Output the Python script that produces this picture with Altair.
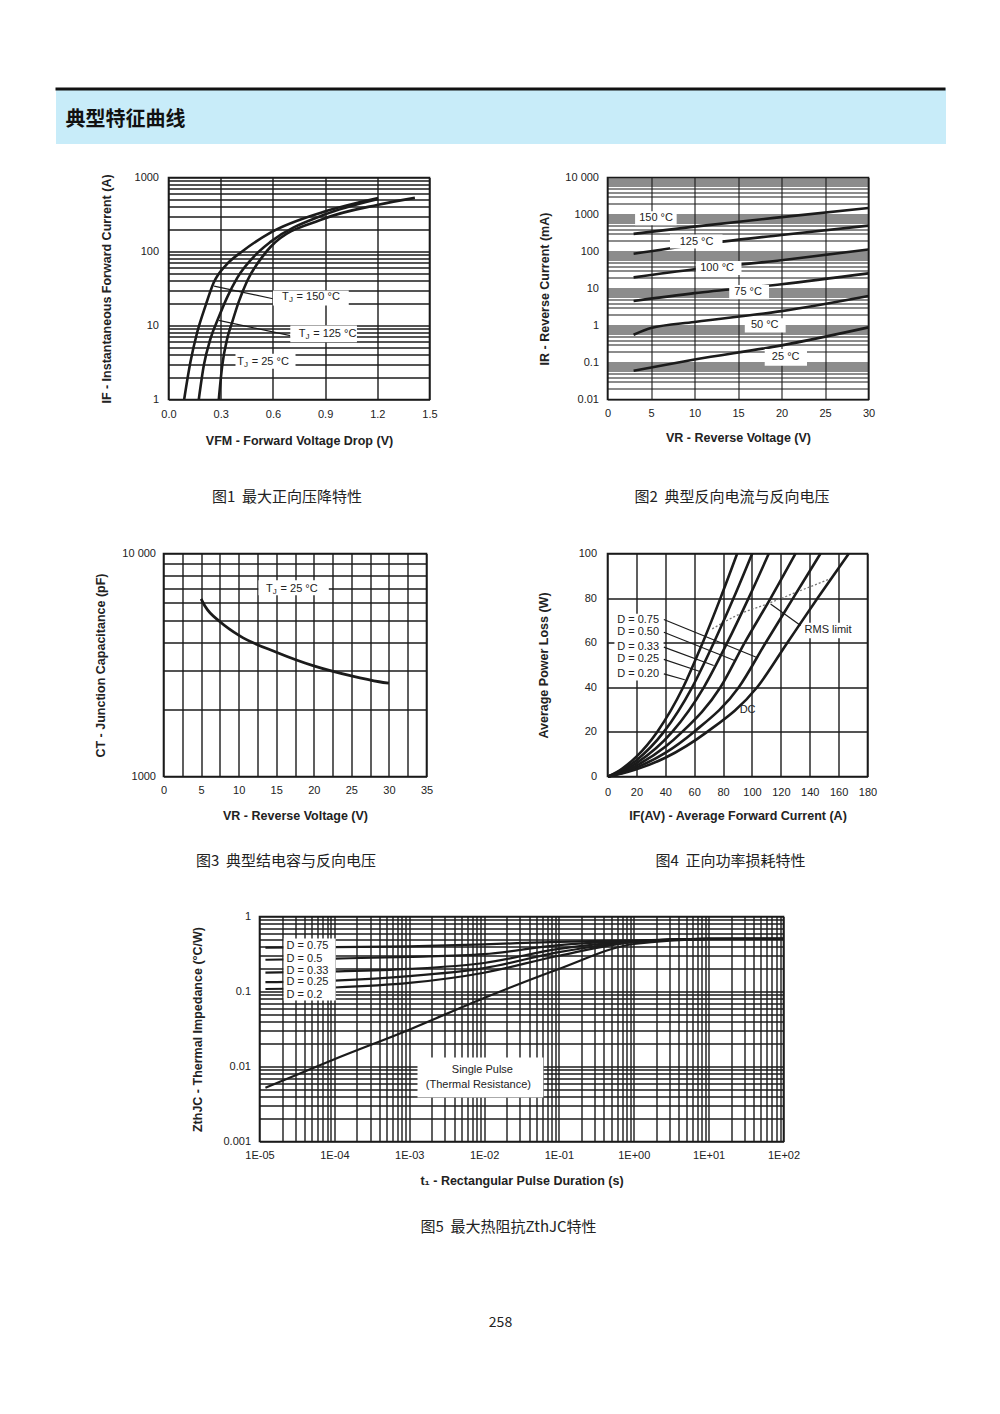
import math
import altair as alt
import pandas as pd

FONT = "Liberation Sans"
CJK = "Noto Sans CJK SC"
INK = "#1b1b1b"
TXT = "#222222"
GAP = "\u00a0\u00a0"

# ---------------- page texts ----------------
header_title = ["典型特征曲线"]
cap1 = "图1" + GAP + "最大正向压降特性"
cap2 = "图2" + GAP + "典型反向电流与反向电压"
cap3 = "图3" + GAP + "典型结电容与反向电压"
cap4 = "图4" + GAP + "正向功率损耗特性"
cap5 = "图5" + GAP + "最大热阻抗ZthJC特性"
page_no = ["258"]

# ---------------- Fig 1 : forward voltage ----------------
f1_x_major = [0.0, 0.3, 0.6, 0.9, 1.2, 1.5]
f1_x_labels = ["0.0", "0.3", "0.6", "0.9", "1.2", "1.5"]
f1_y_major = [1, 10, 100, 1000]
f1_y_labels = ["1", "10", "100", "1000"]
f1_v150 = [0.09, 0.126, 0.165, 0.213, 0.26, 0.337, 0.423, 0.586, 0.893, 1.205]
f1_i150 = [1, 3.2, 8.1, 18.6, 38, 68, 100, 180, 345, 530]
f1_v125 = [0.174, 0.203, 0.241, 0.289, 0.337, 0.395, 0.51, 0.586, 0.893, 1.2]
f1_i125 = [1, 2.9, 6.6, 13, 24, 44, 95, 135, 313, 510]
f1_v25 = [0.289, 0.309, 0.337, 0.366, 0.404, 0.452, 0.548, 0.586, 0.893, 1.205, 1.416]
f1_i25 = [1, 2.9, 6.6, 11.1, 21, 40, 90, 115, 277, 428, 530]
f1_lab_v = [0.653, 0.748, 0.395]
f1_lab_i = [24.1, 7.7, 3.26]
f1_lab_rest = ["= 150 °C", "= 125 °C", "= 25 °C"]
f1_box_v1 = [0.60, 0.70, 0.385]
f1_box_v2 = [1.036, 1.083, 0.73]
f1_box_i1 = [18.6, 5.95, 2.6]
f1_box_i2 = [29.7, 10.0, 4.15]
f1_ptr_v1 = [0.262, 0.289]
f1_ptr_i1 = [34, 11.7]
f1_ptr_v2 = [0.60, 0.70]
f1_ptr_i2 = [23, 7.3]

# ---------------- Fig 2 : reverse current ----------------
f2_x_major = [0, 5, 10, 15, 20, 25, 30]
f2_x_labels = ["0", "5", "10", "15", "20", "25", "30"]
f2_y_major = [0.01, 0.1, 1, 10, 100, 1000, 10000]
f2_y_labels = ["0.01", "0.1", "1", "10", "100", "1000", "10 000"]
f2_v = [3, 10, 20, 30]
f2_i150 = [300, 470, 850, 1500]
f2_i125 = [87, 150, 280, 500]
f2_i100 = [20, 33, 58, 113]
f2_i75 = [4.6, 7.5, 13, 25.6]
f2_v50 = [3, 5, 10, 20, 30]
f2_i50 = [0.56, 0.85, 1.25, 2.45, 6.3]
f2_i25 = [0.06, 0.12, 0.29, 0.89]
f2_lab = ["150 °C", "125 °C", "100 °C", "75 °C", "50 °C", "25 °C"]
f2_lab_v = [5.58, 10.24, 12.6, 16.16, 18.07, 20.48]
f2_lab_i = [805, 186, 35.6, 8.05, 1.02, 0.1435]
f2_box_v1 = [3.17, 7.18, 10.16, 13.99, 15.78, 18.07]
f2_box_v2 = [7.95, 13.22, 15.4, 18.57, 20.48, 22.93]
f2_box_i1 = [512, 120, 23, 5.1, 0.65, 0.082]
f2_box_i2 = [1216, 286, 55, 12.4, 1.57, 0.23]

# ---------------- Fig 3 : junction capacitance ----------------
f3_x_grid = [0, 2.5, 5, 7.5, 10, 12.5, 15, 17.5, 20, 22.5, 25, 27.5, 30, 32.5, 35]
f3_x_major = [0, 5, 10, 15, 20, 25, 30, 35]
f3_x_labels = ["0", "5", "10", "15", "20", "25", "30", "35"]
f3_y_major = [1000, 10000]
f3_y_labels = ["1000", "10 000"]
f3_v = [5.0, 5.6, 7.6, 10.1, 15.1, 20.0, 25.0, 28.7, 30.0]
f3_c = [6266, 5750, 4920, 4283, 3600, 3134, 2826, 2660, 2620]
f3_lab_v = [13.65]
f3_lab_c = [6950]
f3_lab_rest = ["\u00a0= 25 °C"]
f3_box_v1 = [12.64]
f3_box_v2 = [22.0]
f3_box_c1 = [6490]
f3_box_c2 = [7586]

# ---------------- Fig 4 : power loss ----------------
f4_x_major = [0, 20, 40, 60, 80, 100, 120, 140, 160, 180]
f4_x_labels = ["0", "20", "40", "60", "80", "100", "120", "140", "160", "180"]
f4_y_major = [0, 20, 40, 60, 80, 100]
f4_y_labels = ["0", "20", "40", "60", "80", "100"]
f4_i020 = [0.5, 10, 20, 34.4, 52.4, 65.9, 78.2, 89.8]
f4_p020 = [0, 3.5, 8.9, 20, 40, 60, 80, 100]
f4_i025 = [0.5, 10, 20, 39.0, 58.6, 73.6, 87.3, 100.2]
f4_p025 = [0, 2.9, 7.3, 20, 40, 60, 80, 100]
f4_i033 = [0.5, 10, 20, 44.8, 66.7, 82.9, 97.7, 111.7]
f4_p033 = [0, 2.3, 6.0, 20, 40, 60, 80, 100]
f4_i050 = [0.5, 10, 20, 40, 51.7, 78.2, 95.0, 113.0, 130.2]
f4_p050 = [0, 1.9, 4.9, 13.3, 20, 40, 60, 80, 100]
f4_i075 = [0.5, 10, 20, 40, 59.8, 90.9, 109.5, 128.5, 147.5]
f4_p075 = [0, 1.6, 4.0, 10.6, 20, 40, 60, 80, 100]
f4_idc = [0.5, 10, 20, 40, 69.0, 103.6, 124.5, 145.5, 167.1]
f4_pdc = [0, 1.3, 3.2, 8.4, 20, 40, 60, 80, 100]
f4_rms_i = [72.5, 92.1, 110.6, 133.7, 154.4]
f4_rms_p = [66.2, 73.0, 77.4, 83.4, 88.7]
f4_lab = ["D = 0.75", "D = 0.50", "D = 0.33", "D = 0.25", "D = 0.20", "RMS limit", "DC"]
f4_lab_i = [6.7, 6.7, 6.7, 6.7, 6.7, 136.4, 91.5]
f4_lab_p = [70.4, 64.7, 58.0, 52.5, 46.0, 65.9, 29.6]
f4_ptr_i1 = [39, 39, 39, 39, 39, 112.9]
f4_ptr_p1 = [70.4, 64.7, 58.0, 52.5, 46.0, 77.4]
f4_ptr_i2 = [103.0, 88.0, 73.5, 63.5, 53.5, 133.7]
f4_ptr_p2 = [53.5, 52.0, 49.8, 47.2, 43.4, 67.7]
f4_box_i1 = [4.8, 135.0]
f4_box_i2 = [38.8, 174.0]
f4_box_p1 = [43.0, 62.0]
f4_box_p2 = [73.0, 69.0]

# ---------------- Fig 5 : thermal impedance ----------------
f5_x_major = [1e-5, 1e-4, 1e-3, 1e-2, 1e-1, 1e0, 1e1, 1e2]
f5_x_labels = ["1E-05", "1E-04", "1E-03", "1E-02", "1E-01", "1E+00", "1E+01", "1E+02"]
f5_y_major = [0.001, 0.01, 0.1, 1]
f5_y_labels = ["0.001", "0.01", "0.1", "1"]
f5_t = [1.2e-5, 1e-4, 1e-3, 1e-2, 1e-1, 1, 10, 100]
f5_z075 = [0.385, 0.39, 0.40, 0.425, 0.46, 0.48, 0.502, 0.505]
f5_z050 = [0.265, 0.275, 0.29, 0.315, 0.415, 0.47, 0.502, 0.505]
f5_z033 = [0.178, 0.185, 0.20, 0.24, 0.37, 0.465, 0.502, 0.505]
f5_z025 = [0.133, 0.14, 0.16, 0.205, 0.335, 0.46, 0.502, 0.505]
f5_z020 = [0.108, 0.113, 0.13, 0.178, 0.30, 0.455, 0.502, 0.505]
f5_zsp = [0.0052, 0.0125, 0.031, 0.082, 0.20, 0.43, 0.50, 0.505]
f5_dlab = ["D = 0.75", "D = 0.5", "D = 0.33", "D = 0.25", "D = 0.2"]
f5_dlab_t = [2.3e-5] * 5
f5_dlab_z = [0.41, 0.275, 0.19, 0.132, 0.091]
f5_sp_lab = ["Single Pulse", "(Thermal Resistance)"]
f5_sp_t = [9.5e-3, 8.4e-3]
f5_sp_z = [0.00912, 0.00575]
f5_box_t1 = [2.1e-5, 1.29e-3]
f5_box_t2 = [1.04e-4, 0.062]
f5_box_z1 = [0.076, 0.00386]
f5_box_z2 = [0.509, 0.0132]


# ---------------- helpers ----------------
def log_grid(lo, hi):
    vals = []
    for e in range(lo, hi):
        for m in range(1, 10):
            vals.append(float(f"{m}e{e}"))
    vals.append(float(f"1e{hi}"))
    return vals


def lbl_expr(major, labels, log):
    parts = []
    for v, l in zip(major, labels):
        if log:
            cond = f"abs(log(datum.value)/LN10-({math.log10(v):.6f}))<0.001"
        else:
            cond = f"abs(datum.value-({v}))<0.000001"
        parts.append(f"{cond}?'{l}':")
    return "".join(parts) + "''"


def mk_axis(title, values, major, labels, log, lpad, tpad, gw=1.4):
    return alt.Axis(title=title, values=values, labelExpr=lbl_expr(major, labels, log),
                    grid=True, gridColor=INK, gridWidth=gw, gridOpacity=1,
                    ticks=False, tickSize=0, domain=False,
                    labelFont=FONT, labelFontSize=11, labelColor=TXT, labelPadding=lpad,
                    labelFlush=False, labelOverlap=False,
                    titleFont=FONT, titleFontSize=12.5, titleFontWeight="bold",
                    titleColor=TXT, titlePadding=tpad)


def mk_scale(domain, log):
    if log:
        return alt.Scale(type="log", domain=domain, nice=False)
    return alt.Scale(type="linear", domain=domain, nice=False, zero=False)


def series_df(names, xs_list, ys_list):
    rows = []
    for n, xs, ys in zip(names, xs_list, ys_list):
        for k, (a, b) in enumerate(zip(xs, ys)):
            rows.append({"s": n, "x": a, "y": b, "k": k})
    return pd.DataFrame(rows)


def lines(df, X, Y, width=2.6, color=INK, dash=None):
    kw = dict(color=color, strokeWidth=width, interpolate="monotone")
    if dash:
        kw["strokeDash"] = dash
    return alt.Chart(df).mark_line(**kw).encode(x=X, y=Y, detail="s:N", order="k:Q")


def boxes(df, X, Y):
    return alt.Chart(df).mark_rect(fill="white").encode(
        x=X, x2=alt.X2("x2"), y=Y, y2=alt.Y2("y2"))


def pointers(df, X, Y, width=1.2):
    return alt.Chart(df).mark_rule(color=INK, strokeWidth=width).encode(
        x=X, x2=alt.X2("x2"), y=Y, y2=alt.Y2("y2"))


def texts(df, X, Y, field="t", align="left", size=11, dx=0, dy=0):
    return alt.Chart(df).mark_text(align=align, baseline="middle", font=FONT, fontSize=size,
                                   color=TXT, dx=dx, dy=dy).encode(x=X, y=Y, text=f"{field}:N")


def tj_label(df, X, Y):
    return [texts(df, X, Y, field="a"),
            texts(df, X, Y, field="b", size=8, dx=6.8, dy=3),
            texts(df, X, Y, field="c", dx=14.5)]


def panel(layers, w, h, cap, cap_dx, cap_off):
    return alt.layer(*layers).properties(
        width=w, height=h,
        view=alt.ViewBackground(stroke=INK, strokeWidth=1.6, fill="white"),
        title=alt.TitleParams(cap, orient="bottom", anchor="middle", frame="group", dx=cap_dx,
                              offset=cap_off, baseline="top", font=CJK, fontSize=15,
                              fontWeight="normal", color=TXT))


def spacer(w, h):
    return alt.Chart(pd.DataFrame({"a": [0]})).mark_point(size=1, opacity=0).encode(
        x=alt.value(w / 2), y=alt.value(h / 2)).properties(
        width=w, height=h, view=alt.ViewBackground(stroke="transparent", fill="transparent"))


# ---------------- Fig 1 ----------------
X1 = alt.X("x:Q", scale=mk_scale([0, 1.5], False),
           axis=mk_axis("VFM - Forward Voltage Drop (V)", f1_x_major, f1_x_major, f1_x_labels, False, 9, 15))
Y1 = alt.Y("y:Q", scale=mk_scale([1, 1000], True),
           axis=mk_axis("IF - Instantaneous Forward Current (A)", log_grid(0, 3), f1_y_major, f1_y_labels, True, 10, 21))
f1_lines = series_df(["150", "125", "25"], [f1_v150, f1_v125, f1_v25], [f1_i150, f1_i125, f1_i25])
f1_boxes = pd.DataFrame({"x": f1_box_v1, "x2": f1_box_v2, "y": f1_box_i1, "y2": f1_box_i2})
f1_ptrs = pd.DataFrame({"x": f1_ptr_v1, "x2": f1_ptr_v2, "y": f1_ptr_i1, "y2": f1_ptr_i2})
f1_labs = pd.DataFrame({"x": f1_lab_v, "y": f1_lab_i, "a": ["T"] * 3, "b": ["J"] * 3, "c": f1_lab_rest})
fig1 = panel([lines(f1_lines, X1, Y1), pointers(f1_ptrs, X1, Y1), boxes(f1_boxes, X1, Y1)]
             + tj_label(f1_labs, X1, Y1), 261, 222, cap1, -12, 43)

# ---------------- Fig 2 ----------------
X2 = alt.X("x:Q", scale=mk_scale([0, 30], False),
           axis=mk_axis("VR - Reverse Voltage (V)", f2_x_major, f2_x_major, f2_x_labels, False, 8, 13, gw=1.1))
Y2 = alt.Y("y:Q", scale=mk_scale([0.01, 10000], True),
           axis=mk_axis("IR - Reverse Current (mA)", log_grid(-2, 4), f2_y_major, f2_y_labels, True, 9, 13, gw=1.1))
f2_lines = series_df(["150", "125", "100", "75", "50", "25"],
                     [f2_v, f2_v, f2_v, f2_v, f2_v50, f2_v],
                     [f2_i150, f2_i125, f2_i100, f2_i75, f2_i50, f2_i25])
f2_boxes = pd.DataFrame({"x": f2_box_v1, "x2": f2_box_v2, "y": f2_box_i1, "y2": f2_box_i2})
f2_labs = pd.DataFrame({"x": f2_lab_v, "y": f2_lab_i, "t": f2_lab})
fig2 = panel([lines(f2_lines, X2, Y2), boxes(f2_boxes, X2, Y2),
              texts(f2_labs, X2, Y2, align="center")], 261, 222, cap2, -6, 46)

# ---------------- Fig 3 ----------------
X3 = alt.X("x:Q", scale=mk_scale([0, 35], False),
           axis=mk_axis("VR - Reverse Voltage (V)", f3_x_grid, f3_x_major, f3_x_labels, False, 8, 14))
Y3 = alt.Y("y:Q", scale=mk_scale([1000, 10000], True),
           axis=mk_axis("CT - Junction Capacitance (pF)", log_grid(3, 4), f3_y_major, f3_y_labels, True, 8, 14))
f3_lines = series_df(["25"], [f3_v], [f3_c])
f3_boxes = pd.DataFrame({"x": f3_box_v1, "x2": f3_box_v2, "y": f3_box_c1, "y2": f3_box_c2})
f3_labs = pd.DataFrame({"x": f3_lab_v, "y": f3_lab_c, "a": ["T"], "b": ["J"], "c": f3_lab_rest})
fig3 = panel([lines(f3_lines, X3, Y3, width=2.8), boxes(f3_boxes, X3, Y3)] + tj_label(f3_labs, X3, Y3),
             263, 223, cap3, -9, 32)

# ---------------- Fig 4 ----------------
X4 = alt.X("x:Q", scale=mk_scale([0, 180], False),
           axis=mk_axis("IF(AV) - Average Forward Current (A)", f4_x_major, f4_x_major, f4_x_labels, False, 10, 12))
Y4 = alt.Y("y:Q", scale=mk_scale([0, 100], False),
           axis=mk_axis("Average Power Loss (W)", f4_y_major, f4_y_major, f4_y_labels, False, 11, 28))
f4_lines = series_df(["0.20", "0.25", "0.33", "0.50", "0.75", "DC"],
                     [f4_i020, f4_i025, f4_i033, f4_i050, f4_i075, f4_idc],
                     [f4_p020, f4_p025, f4_p033, f4_p050, f4_p075, f4_pdc])
f4_rms = series_df(["rms"], [f4_rms_i], [f4_rms_p])
f4_boxes = pd.DataFrame({"x": f4_box_i1, "x2": f4_box_i2, "y": f4_box_p1, "y2": f4_box_p2})
f4_ptrs = pd.DataFrame({"x": f4_ptr_i1, "x2": f4_ptr_i2, "y": f4_ptr_p1, "y2": f4_ptr_p2})
f4_labs = pd.DataFrame({"x": f4_lab_i, "y": f4_lab_p, "t": f4_lab})
fig4 = panel([boxes(f4_boxes, X4, Y4), lines(f4_rms, X4, Y4, width=1.3, color="#777777", dash=[2, 2]),
              lines(f4_lines, X4, Y4), pointers(f4_ptrs, X4, Y4), texts(f4_labs, X4, Y4)],
             260, 223, cap4, -7, 32)

# ---------------- Fig 5 ----------------
X5 = alt.X("x:Q", scale=mk_scale([1e-5, 100], True),
           axis=mk_axis("t\u2081 - Rectangular Pulse Duration (s)", log_grid(-5, 2), f5_x_major, f5_x_labels, True, 8, 14))
Y5 = alt.Y("y:Q", scale=mk_scale([0.001, 1], True),
           axis=mk_axis("ZthJC - Thermal Impedance (°C/W)", log_grid(-3, 0), f5_y_major, f5_y_labels, True, 9, 18))
f5_lines = series_df(["0.75", "0.5", "0.33", "0.25", "0.2", "sp"], [f5_t] * 6,
                     [f5_z075, f5_z050, f5_z033, f5_z025, f5_z020, f5_zsp])
f5_boxes = pd.DataFrame({"x": f5_box_t1, "x2": f5_box_t2, "y": f5_box_z1, "y2": f5_box_z2})
f5_dl = pd.DataFrame({"x": f5_dlab_t, "y": f5_dlab_z, "t": f5_dlab})
f5_sl = pd.DataFrame({"x": f5_sp_t, "y": f5_sp_z, "t": f5_sp_lab})
fig5 = panel([lines(f5_lines, X5, Y5, width=2.2), boxes(f5_boxes, X5, Y5),
              texts(f5_dl, X5, Y5), texts(f5_sl, X5, Y5, align="center")],
             524, 225, cap5, -13, 33)

# ---------------- header / footer ----------------
hdr_df = pd.DataFrame({"t": header_title})
header = alt.layer(
    alt.Chart(hdr_df).mark_rule(color="#111111", strokeWidth=3).encode(y=alt.value(1.5)),
    alt.Chart(hdr_df).mark_text(align="left", baseline="middle", font=CJK, fontSize=20,
                                fontWeight="bold", color="#111111").encode(
        x=alt.value(10), y=alt.value(32), text="t:N"),
).properties(width=890, height=56, view=alt.ViewBackground(fill="#c8ecf9", stroke="transparent"))

foot_df = pd.DataFrame({"t": page_no})
footer = alt.Chart(foot_df).mark_text(align="center", baseline="middle", font=CJK, fontSize=14,
                                      color=TXT).encode(
    x=alt.value(445), y=alt.value(10), text="t:N").properties(
    width=890, height=20, view=alt.ViewBackground(stroke="transparent"))

row1 = alt.hconcat(spacer(113, 1), fig1, spacer(178, 1), fig2, spacing=0, bounds="flush")
row2 = alt.hconcat(spacer(108, 1), fig3, spacer(181, 1), fig4, spacing=0, bounds="flush")
row3 = alt.hconcat(spacer(204, 1), fig5, spacing=0, bounds="flush")

# nested rows count as zero height in the flush layout, so the gaps include row heights
chart = alt.vconcat(header, spacer(890, 34), row1, spacer(890, 222 + 154), row2,
                    spacer(890, 223 + 140), row3, spacer(890, 225 + 171), footer,
                    spacing=0, bounds="flush").properties(
    padding={"left": 45.5, "top": 78.5, "right": 5, "bottom": 5}
).configure_view(stroke="transparent").configure(background="white")

chart.save("out.html", embed_options={"renderer": "svg", "actions": False})
